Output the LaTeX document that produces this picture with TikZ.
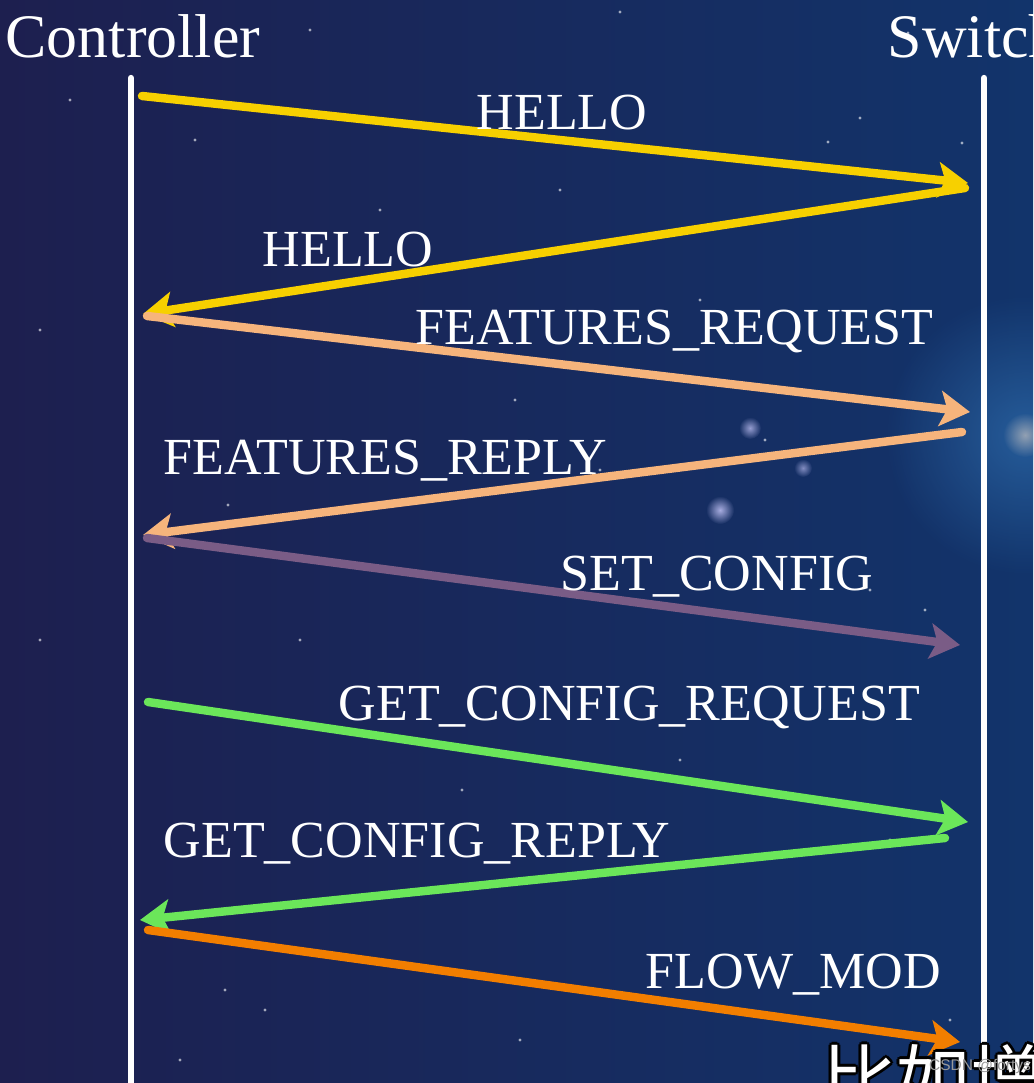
\documentclass[tikz,border=0pt]{standalone}
\usepackage{fontspec}
\setmainfont{Liberation Serif}
\newfontfamily\cjkfont{Noto Sans CJK SC}
\newfontfamily\markfont{Liberation Sans}
\usetikzlibrary{arrows.meta, fadings}

\definecolor{bgleft}{HTML}{1D1F4F}
\definecolor{bgright}{HTML}{12346B}
\definecolor{helloyellow}{HTML}{F7D000}
\definecolor{featpeach}{HTML}{F6B47C}
\definecolor{setpurple}{HTML}{7A5C86}
\definecolor{getgreen}{HTML}{6BE65A}
\definecolor{floworange}{HTML}{F27E00}

\tikzfading[name=glowfade, inner color=transparent!0, outer color=transparent!100]

\begin{document}
\begin{tikzpicture}[
    x=0.01cm, y=-0.01cm,
    lifeline/.style={draw=white, line width=1.8pt, line cap=round},
    msg/.style={line width=2.4pt, line cap=round, -{Stealth[length=8.5pt, width=10pt, inset=2pt]}},
    glow/.style={path fading=glowfade},
    actor/.style={text=white, inner sep=0pt, anchor=base west, font=\fontsize{17.6}{20}\selectfont},
    msglabel/.style={text=white, inner sep=0pt, anchor=base west, font=\fontsize{14.8}{17}\selectfont}
]
    \useasboundingbox (0,0) rectangle (1033,1083);
    \clip (0,0) rectangle (1033,1083);

    % background
    \shade[left color=bgleft, right color=bgright] (0,0) rectangle (1033,1083);
    \fill[cyan!60!blue!80!white, opacity=0.45, glow] (1025,435) circle (140);
    \fill[white!80!orange, opacity=0.5, glow] (1025,435) circle (22);
    \fill[white!80!blue, opacity=0.8, glow] (720,510) circle (14);
    \fill[white!80!blue, opacity=0.7, glow] (750,428) circle (11);
    \fill[white!80!blue, opacity=0.6, glow] (803,468) circle (9);
    \foreach \sx/\sy in {310/30, 620/12, 908/33, 70/100, 195/140, 860/118, 828/142, 962/143, 380/210,
        560/190, 40/330, 700/300, 515/400, 765/440, 228/505, 600/470, 925/610, 870/590,
        300/640, 40/640, 680/760, 462/790, 890/840, 225/990, 265/1010, 520/1040, 180/1060, 950/1020}
        \fill[white, opacity=0.6] (\sx,\sy) circle (1.6);

    % participants
    \node[actor] (ctrl) at (5,58) {Controller};
    \node[actor] (sw) at (887,58) {Switch};
    \coordinate (ctrltop) at (131,78);
    \coordinate (ctrlbot) at (131,1090);
    \coordinate (swtop) at (984,78);
    \coordinate (swbot) at (984,1050);
    \draw[lifeline] (ctrltop) -- (ctrlbot);
    \draw[lifeline] (swtop) -- (swbot);

    % message end points
    \coordinate (m1a) at (142,96);   \coordinate (m1b) at (968,183);
    \coordinate (m2a) at (965,188);  \coordinate (m2b) at (143,314);
    \coordinate (m3a) at (147,316);  \coordinate (m3b) at (970,412);
    \coordinate (m4a) at (962,432);  \coordinate (m4b) at (143,535);
    \coordinate (m5a) at (147,538);  \coordinate (m5b) at (960,645);
    \coordinate (m6a) at (148,702);  \coordinate (m6b) at (968,822);
    \coordinate (m7a) at (945,838);  \coordinate (m7b) at (140,920);
    \coordinate (m8a) at (148,930);  \coordinate (m8b) at (960,1042);

    % handshake messages
    \draw[msg, helloyellow] (m1a) -- (m1b);
    \draw[msg, helloyellow] (m2a) -- (m2b);
    \draw[msg, featpeach] (m3a) -- (m3b);
    \draw[msg, featpeach] (m4a) -- (m4b);
    \draw[msg, setpurple] (m5a) -- (m5b);
    \draw[msg, getgreen] (m6a) -- (m6b);
    \draw[msg, getgreen] (m7a) -- (m7b);
    \draw[msg, floworange] (m8a) -- (m8b);

    \node[msglabel] (l1) at (476,130) {HELLO};
    \node[msglabel] (l2) at (262,267) {HELLO};
    \node[msglabel] (l3) at (415,345) {FEATURES\_REQUEST};
    \node[msglabel] (l4) at (163,475) {FEATURES\_REPLY};
    \node[msglabel] (l5) at (560,590) {SET\_CONFIG};
    \node[msglabel] (l6) at (338,720) {GET\_CONFIG\_REQUEST};
    \node[msglabel] (l7) at (163,857) {GET\_CONFIG\_REPLY};
    \node[msglabel] (l8) at (645,988) {FLOW\_MOD};

    % subtitle (cut off at the bottom)
    \foreach \dx/\dy [count=\i] in {-3/0, 3/0, 0/-3, 0/3, -2/-2, 2/2, -2/2, 2/-2}
        \node[inner sep=0pt, anchor=base west, text=black, font=\cjkfont\fontsize{21}{24}\selectfont]
            (subshadow\i) at (822+\dx,1106+\dy) {比如增};
    \node[inner sep=0pt, anchor=base west, text=white, font=\cjkfont\fontsize{21}{24}\selectfont]
        (sub) at (822,1106) {比如增};
    \node[inner sep=0pt, text=gray!80, font=\markfont\fontsize{4.4}{5}\selectfont] (mark) at (980,1066) {CSDN @fortys};
\end{tikzpicture}
\end{document}
